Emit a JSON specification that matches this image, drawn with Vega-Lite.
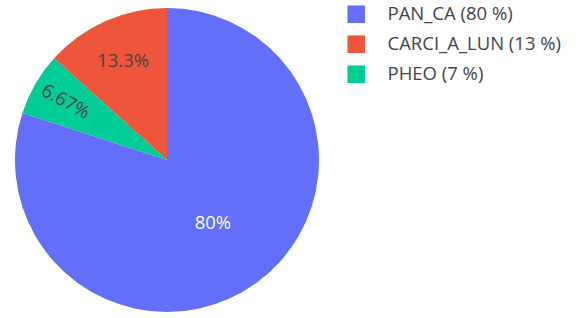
{
  "$schema": "https://vega.github.io/schema/vega-lite/v6.json",
  "width": 334,
  "height": 318,
  "autosize": {"type": "none"},
  "padding": {"left": 0, "top": 1, "right": 246, "bottom": 0},
  "background": "white",
  "config": {"view": {"stroke": null}, "font": "Open Sans"},
  "data": {
    "values": [
      {"name": "PAN_CA (80 %)", "count": 12, "seq": 1, "pct": "80%"},
      {"name": "PHEO (7 %)", "count": 1, "seq": 2, "pct": "6.67%"},
      {"name": "CARCI_A_LUN (13 %)", "count": 2, "seq": 3, "pct": "13.3%"}
    ]
  },
  "encoding": {
    "theta": {"field": "count", "type": "quantitative", "stack": true},
    "order": {"field": "seq", "type": "quantitative", "sort": "ascending"}
  },
  "layer": [
    {
      "mark": {"type": "arc", "outerRadius": 152},
      "encoding": {
        "color": {
          "field": "name",
          "type": "nominal",
          "scale": {
            "domain": ["PAN_CA (80 %)", "CARCI_A_LUN (13 %)", "PHEO (7 %)"],
            "range": ["#636efa", "#EF553B", "#00cc96"]
          },
          "legend": {
            "title": null,
            "orient": "none",
            "legendX": 347,
            "legendY": 4,
            "symbolType": "square",
            "symbolSize": 310,
            "symbolStrokeWidth": 0,
            "labelFont": "Open Sans",
            "labelFontSize": 18.5,
            "labelColor": "#444",
            "labelOffset": 22,
            "rowPadding": 11,
            "labelLimit": 300
          }
        }
      }
    },
    {
      "mark": {
        "type": "text",
        "font": "Open Sans",
        "fontSize": 18.5,
        "radius": {"expr": "datum.seq === 2 ? 117 : datum.seq === 3 ? 108 : 78"},
        "angle": {"expr": "datum.seq === 2 ? 29 : 0"}
      },
      "encoding": {
        "text": {"field": "pct"},
        "color": {
          "condition": {"test": "datum.seq === 1", "value": "white"},
          "value": "#444"
        }
      }
    }
  ]
}
